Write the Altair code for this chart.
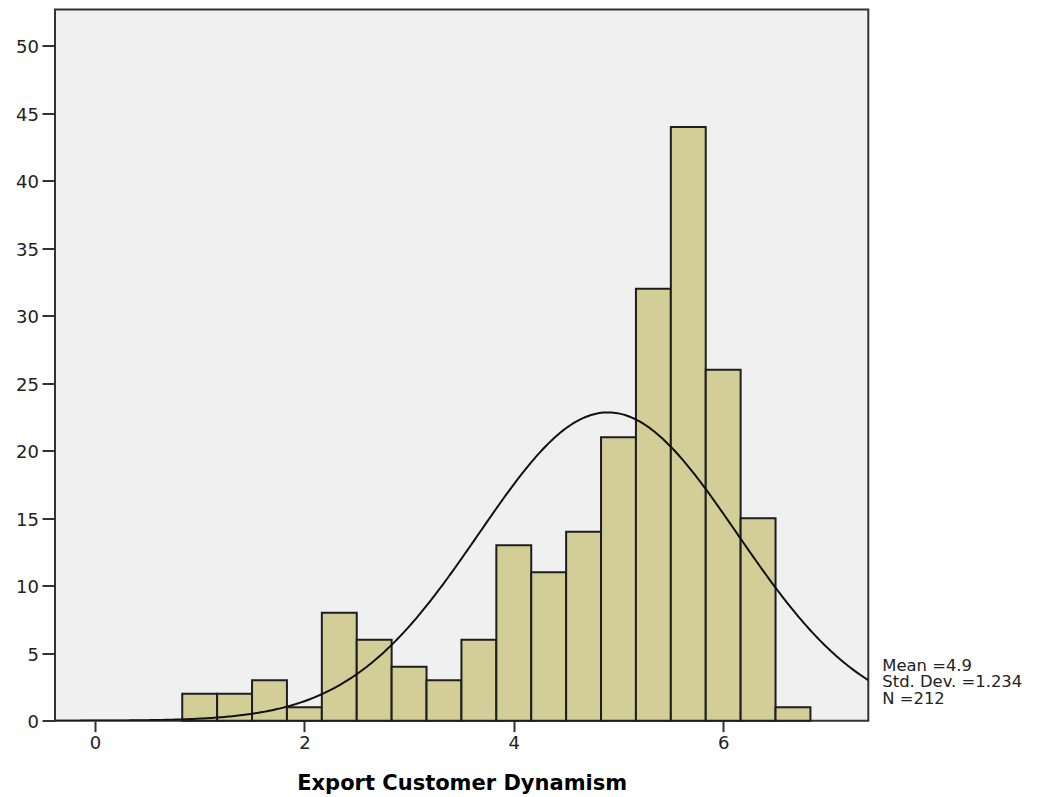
import altair as alt
import numpy as np
import pandas as pd

# Histogram of Export Customer Dynamism (bins of width 1/3 starting at 5/6)
bin_first_edge = 5 / 6
bin_width = 1 / 3
counts = [2, 2, 3, 1, 8, 6, 4, 3, 6, 13, 11, 14, 21, 32, 44, 26, 15, 1]

# Summary statistics printed beside the plot
mean_val = 4.9
std_val = 1.234
n_obs = 212
stat_lines = ["Mean =4.9", "Std. Dev. =1.234", "N =212"]

x_ticks = [0, 2, 4, 6]
y_ticks = list(range(0, 51, 5))
x_domain = [-0.382, 7.386]
y_domain = [0, 52.7]

starts = bin_first_edge + bin_width * np.arange(len(counts))
bars_df = pd.DataFrame({"start": starts, "end": starts + bin_width, "count": counts})

# Normal curve scaled to the histogram: N * bin width * density
xs = np.linspace(x_domain[0], x_domain[1], 400)
ys = n_obs * bin_width * np.exp(-0.5 * ((xs - mean_val) / std_val) ** 2) / (std_val * np.sqrt(2 * np.pi))
curve_df = pd.DataFrame({"x": xs, "y": ys})

W, H = 813.3, 711.2
FONT = "DejaVu Sans"

x_scale = alt.Scale(domain=x_domain, nice=False, zero=False)
y_scale = alt.Scale(domain=y_domain, nice=False)

x_axis = alt.Axis(
    values=x_ticks, format="d", title="Export Customer Dynamism", grid=False, domain=False,
    tickSize=11, tickWidth=2, tickColor="#333333", labelPadding=3,
    labelFont=FONT, labelFontSize=18, labelColor="#222222",
    titleFont=FONT, titleFontSize=21, titleFontWeight="bold", titleColor="#000000",
    titleBaseline="alphabetic", titleY=68.5,
)
y_axis = alt.Axis(
    values=y_ticks, format="d", title=None, grid=False, domain=False,
    tickSize=13, tickWidth=2, tickColor="#333333", labelPadding=3.5, labelOffset=2,
    labelFont=FONT, labelFontSize=18, labelColor="#222222",
)

bars = alt.Chart(bars_df).mark_bar(
    color="#D3CE97", stroke="#1E1E1E", strokeWidth=2
).encode(
    x=alt.X("start:Q", scale=x_scale, axis=x_axis),
    x2="end:Q",
    y=alt.Y("count:Q", scale=y_scale, axis=y_axis),
    y2=alt.datum(0),
)

curve = alt.Chart(curve_df).mark_line(color="#111111", strokeWidth=2, clip=True).encode(
    x=alt.X("x:Q", scale=x_scale),
    y=alt.Y("y:Q", scale=y_scale),
)

stats = alt.Chart(pd.DataFrame({"t": [stat_lines]})).mark_text(
    align="left", baseline="alphabetic", font=FONT, fontSize=16.4,
    lineHeight=16.8, color="#222222",
).encode(
    text="t:N",
    x=alt.value(W + 14),
    y=alt.value(H - 50),
)

chart = alt.layer(bars, curve, stats).properties(
    width=W, height=H,
    autosize=alt.AutoSizeParams(type="none"),
    padding={"left": 55, "top": 9.5, "right": 1048 - 55 - W, "bottom": 797 - 9.5 - H},
    background="white",
).configure_view(
    fill="#F0F0F0", stroke="#333333", strokeWidth=2
)

chart.save("out.html", embed_options={"renderer": "svg", "actions": False})
